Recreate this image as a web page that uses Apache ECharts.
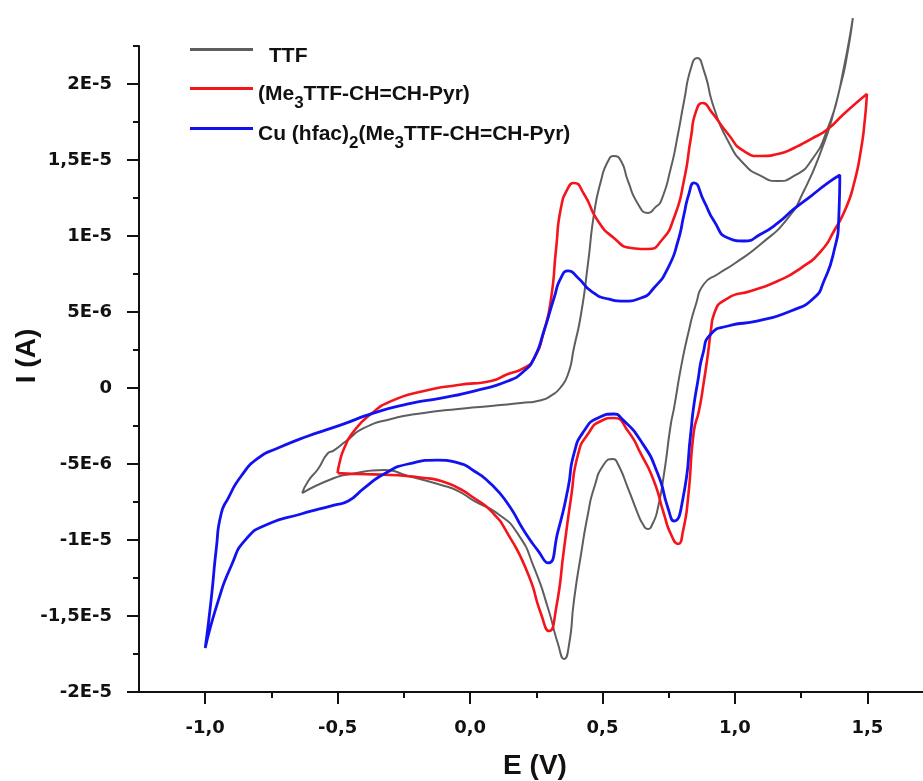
<!DOCTYPE html>
<html>
<head>
<meta charset="utf-8">
<script src="https://cdn.jsdelivr.net/npm/echarts@6/dist/echarts.min.js"></script>
<style>
  html, body { margin: 0; padding: 0; background: #fff; }
  #chart { width: 923px; height: 781px; }
</style>
</head>
<body>
<div id="chart"></div>
<script>
// potential E in V, current I in units of 1E-6 A
const xTickValues = [-1, -0.5, 0, 0.5, 1, 1.5]
const xTickLabels = ['-1,0', '-0,5', '0,0', '0,5', '1,0', '1,5']
const xMinorTicks = [-0.75, -0.25, 0.25, 0.75, 1.25]
const yTickValues = [-20, -15, -10, -5, 0, 5, 10, 15, 20]
const yTickLabels = ['-2E-5', '-1,5E-5', '-1E-5', '-5E-6', '0', '5E-6', '1E-5', '1,5E-5', '2E-5']
const yMinorTicks = [-17.5, -12.5, -7.5, -2.5, 2.5, 7.5, 12.5, 17.5, 22.5]

const seriesNames = ['TTF', '(Me3TTF-CH=CH-Pyr)', 'Cu (hfac)2(Me3TTF-CH=CH-Pyr)']

// TTF
const ttfLoop = [
  [-0.634, -6.91], [-0.611, -6.12], [-0.574, -5.33], [-0.536, -4.28], [-0.517, -4.14], [-0.468, -3.49],
  [-0.400, -2.63], [-0.298, -2.04], [-0.174, -1.64], [-0.045, -1.38], [0.079, -1.18], [0.192, -0.99],
  [0.268, -0.80], [0.306, -0.50], [0.340, 0.00], [0.370, 0.92], [0.392, 2.63], [0.419, 4.87],
  [0.445, 8.16], [0.468, 11.45], [0.494, 13.62], [0.521, 14.93], [0.543, 15.26], [0.570, 14.93],
  [0.596, 13.62], [0.634, 12.11], [0.672, 11.51], [0.700, 11.90], [0.721, 12.30], [0.758, 14.47],
  [0.785, 16.71], [0.808, 18.88], [0.834, 21.05], [0.857, 21.71], [0.883, 20.86], [0.921, 18.42],
  [0.974, 16.25], [1.034, 14.74], [1.098, 13.95], [1.162, 13.62], [1.223, 13.95], [1.287, 14.93],
  [1.351, 17.11], [1.400, 20.00], [1.426, 22.17], [1.445, 24.34],
  [1.411, 21.05], [1.374, 18.22], [1.325, 15.59], [1.260, 12.96], [1.200, 11.18], [1.098, 9.47],
  [0.996, 8.16], [0.936, 7.50], [0.883, 6.84], [0.853, 5.53], [0.823, 3.55], [0.796, 1.32],
  [0.770, -1.32], [0.758, -2.37], [0.732, -5.66], [0.709, -7.89], [0.690, -8.90], [0.670, -9.28],
  [0.652, -8.95], [0.634, -8.29], [0.596, -6.58], [0.558, -5.00], [0.540, -4.67], [0.506, -5.00],
  [0.468, -6.58], [0.445, -8.29], [0.419, -10.92], [0.392, -14.01], [0.374, -16.84], [0.355, -17.83],
  [0.332, -16.84], [0.294, -14.47], [0.242, -11.84], [0.181, -9.61], [0.106, -8.29], [0.015, -7.43],
  [-0.045, -6.78], [-0.109, -6.38], [-0.234, -5.79], [-0.325, -5.39], [-0.449, -5.66], [-0.513, -5.92],
  [-0.634, -6.91]
]

// (Me3TTF-CH=CH-Pyr)
const pyrLoop = [
  [-0.500, -5.60], [-0.494, -5.00], [-0.475, -3.95], [-0.438, -2.83], [-0.374, -1.71], [-0.298, -0.86],
  [-0.174, -0.20], [-0.045, 0.20], [0.079, 0.46], [0.143, 0.92], [0.204, 1.32], [0.242, 1.97],
  [0.279, 3.75], [0.306, 5.92], [0.325, 9.21], [0.343, 11.84], [0.370, 13.16], [0.392, 13.49],
  [0.430, 12.76], [0.483, 10.99], [0.543, 9.87], [0.608, 9.21], [0.672, 9.14], [0.721, 9.67],
  [0.770, 11.20], [0.808, 13.70], [0.834, 16.50], [0.853, 18.20], [0.879, 18.75], [0.909, 18.22],
  [0.974, 16.71], [1.034, 15.59], [1.098, 15.26], [1.162, 15.39], [1.223, 15.79], [1.287, 16.38],
  [1.351, 17.04], [1.411, 18.03], [1.498, 19.34],
  [1.491, 17.76], [1.475, 15.59], [1.449, 13.42], [1.419, 11.84], [1.374, 10.33], [1.325, 9.01],
  [1.249, 7.89], [1.162, 7.04], [1.060, 6.38], [0.974, 5.92], [0.921, 4.87], [0.909, 3.75],
  [0.898, 2.24], [0.883, 0.46], [0.864, -1.51], [0.845, -2.83], [0.823, -7.24], [0.804, -9.41],
  [0.785, -10.26], [0.758, -9.61], [0.732, -8.29], [0.694, -6.12], [0.645, -4.34], [0.596, -2.83],
  [0.543, -1.97], [0.494, -2.17], [0.445, -3.03], [0.408, -4.34], [0.381, -7.24], [0.355, -10.53],
  [0.325, -14.47], [0.298, -15.99], [0.268, -14.87], [0.219, -12.24], [0.143, -9.61], [0.079, -8.09],
  [0.015, -7.24], [-0.045, -6.58], [-0.109, -6.12], [-0.174, -5.92], [-0.298, -5.72], [-0.423, -5.66],
  [-0.500, -5.60]
]

// Cu (hfac)2(Me3TTF-CH=CH-Pyr)
const cuLoop = [
  [-1.000, -17.11], [-0.977, -13.82], [-0.958, -10.53], [-0.940, -8.29], [-0.913, -7.24], [-0.864, -5.79],
  [-0.800, -4.61], [-0.725, -3.95], [-0.611, -3.16], [-0.487, -2.43], [-0.362, -1.64], [-0.234, -1.05],
  [-0.109, -0.66], [0.015, -0.20], [0.143, 0.46], [0.204, 1.12], [0.242, 1.97], [0.279, 3.75],
  [0.317, 5.92], [0.343, 7.24], [0.370, 7.70], [0.408, 7.24], [0.457, 6.38], [0.521, 5.86],
  [0.581, 5.72], [0.645, 5.92], [0.694, 6.58], [0.747, 7.89], [0.785, 9.67], [0.808, 11.45],
  [0.826, 12.76], [0.845, 13.49], [0.883, 12.30], [0.921, 10.99], [0.974, 9.87], [1.034, 9.67],
  [1.098, 10.13], [1.162, 10.86], [1.223, 11.78], [1.287, 12.63], [1.351, 13.49], [1.396, 14.01],
  [1.392, 11.18], [1.374, 9.01], [1.336, 7.04], [1.298, 5.92], [1.211, 5.07], [1.087, 4.41],
  [0.974, 4.08], [0.909, 3.55], [0.879, 2.24], [0.860, 0.46], [0.842, -1.51], [0.834, -2.83],
  [0.804, -7.24], [0.770, -8.75], [0.747, -7.89], [0.709, -5.66], [0.645, -3.49], [0.570, -1.97],
  [0.543, -1.71], [0.483, -1.97], [0.430, -2.83], [0.392, -4.34], [0.370, -6.58], [0.332, -9.41],
  [0.294, -11.51], [0.257, -10.72], [0.204, -9.41], [0.143, -7.63], [0.079, -6.32], [0.015, -5.46],
  [-0.045, -4.93], [-0.121, -4.74], [-0.234, -5.00], [-0.325, -5.66], [-0.400, -6.58], [-0.460, -7.43],
  [-0.513, -7.70], [-0.638, -8.29], [-0.762, -8.95], [-0.845, -9.93], [-0.902, -11.71], [-0.951, -14.01],
  [-1.000, -17.11]
]

const lineColors = ['#5e5e5e', '#f5141c', '#1212f0']
const lineWidths = [2, 2.6, 2.8]

function pickLabel(values, labels, v) {
  for (let i = 0; i < values.length; i++) {
    if (Math.abs(values[i] - v) < 1e-6) return labels[i]
  }
  return ''
}

let myChart = echarts.init(document.getElementById('chart'))
const axisFont = { fontFamily: 'DejaVu Sans', fontWeight: 'bold', fontSize: 18, color: '#111' }
const legendRich = {
  a: { fontFamily: 'Liberation Sans', fontWeight: 'bold', fontSize: 21, color: '#111', lineHeight: 24, verticalAlign: 'top' },
  s: { fontFamily: 'Liberation Sans', fontWeight: 'bold', fontSize: 17, color: '#111', lineHeight: 18, verticalAlign: 'top', padding: [11, 0, 0, 0] },
  t: { fontFamily: 'Liberation Sans', fontWeight: 'bold', fontSize: 21, color: '#111', lineHeight: 24, verticalAlign: 'top', padding: [3, 0, 0, 11] }
}
const legendText = {
  'TTF': '{t|TTF}',
  '(Me3TTF-CH=CH-Pyr)': '{a|(Me}{s|3}{a|TTF-CH=CH-Pyr)}',
  'Cu (hfac)2(Me3TTF-CH=CH-Pyr)': '{a|Cu (hfac)}{s|2}{a|(Me}{s|3}{a|TTF-CH=CH-Pyr)}'
}
// one legend per row so each row sits where it is in the figure
const legendTops = [42.5, 83.5, 123.5]
const legendPadTop = [10, 14, 14]

myChart.setOption({
  animation: false,
  backgroundColor: '#fff',
  grid: { left: 139, right: 0, top: 46, bottom: 89, outerBoundsMode: 'none' },
  legend: seriesNames.map((name, i) => ({
    data: [name],
    left: 190,
    top: legendTops[i],
    icon: 'rect',
    itemWidth: 63,
    itemHeight: 3,
    itemGap: 0,
    padding: 0,
    formatter: (n) => legendText[n],
    textStyle: { rich: legendRich, padding: [legendPadTop[i], 0, 0, 0] }
  })),
  graphic: [
    {
      type: 'text',
      x: 27,
      y: 356,
      rotation: Math.PI / 2,
      style: {
        text: 'I (A)',
        align: 'center',
        verticalAlign: 'middle',
        font: 'bold 28px "Liberation Sans"',
        fill: '#111'
      }
    }
  ],
  xAxis: [
    {
      type: 'value',
      min: -1.25,
      max: 1.71,
      name: 'E (V)',
      nameLocation: 'middle',
      nameGap: 60,
      nameTextStyle: { fontFamily: 'Liberation Sans', fontWeight: 'bold', fontSize: 28, color: '#111', padding: [0, 0, 0, 8] },
      axisLine: { onZero: false, lineStyle: { color: '#111', width: 2 } },
      axisTick: { customValues: xTickValues, length: 12, lineStyle: { color: '#111', width: 2 } },
      axisLabel: Object.assign({ customValues: xTickValues, margin: 27, formatter: (v) => pickLabel(xTickValues, xTickLabels, v) }, axisFont),
      splitLine: { show: false }
    },
    {
      type: 'value',
      min: -1.25,
      max: 1.71,
      position: 'bottom',
      axisLine: { show: false, onZero: false },
      axisTick: { customValues: xMinorTicks, length: 6, lineStyle: { color: '#111', width: 2 } },
      axisLabel: { show: false },
      splitLine: { show: false }
    }
  ],
  yAxis: [
    {
      type: 'value',
      min: -20,
      max: 22.5,
      axisLine: { show: true, onZero: false, lineStyle: { color: '#111', width: 2 } },
      axisTick: { show: true, customValues: yTickValues, length: 12, lineStyle: { color: '#111', width: 2 } },
      axisLabel: Object.assign({ customValues: yTickValues, margin: 27, formatter: (v) => pickLabel(yTickValues, yTickLabels, v) }, axisFont),
      splitLine: { show: false }
    },
    {
      type: 'value',
      min: -20,
      max: 22.5,
      position: 'left',
      axisLine: { show: false, onZero: false },
      axisTick: { show: true, customValues: yMinorTicks, length: 6, lineStyle: { color: '#111', width: 2 } },
      axisLabel: { show: false },
      splitLine: { show: false }
    }
  ],
  series: [ttfLoop, pyrLoop, cuLoop].map((loop, i) => ({
    name: seriesNames[i],
    type: 'line',
    xAxisIndex: 0,
    yAxisIndex: 0,
    data: loop,
    symbol: 'none',
    smooth: 0.6,
    clip: false,
    color: lineColors[i],
    lineStyle: { color: lineColors[i], width: lineWidths[i] }
  }))
})
</script>
</body>
</html>
